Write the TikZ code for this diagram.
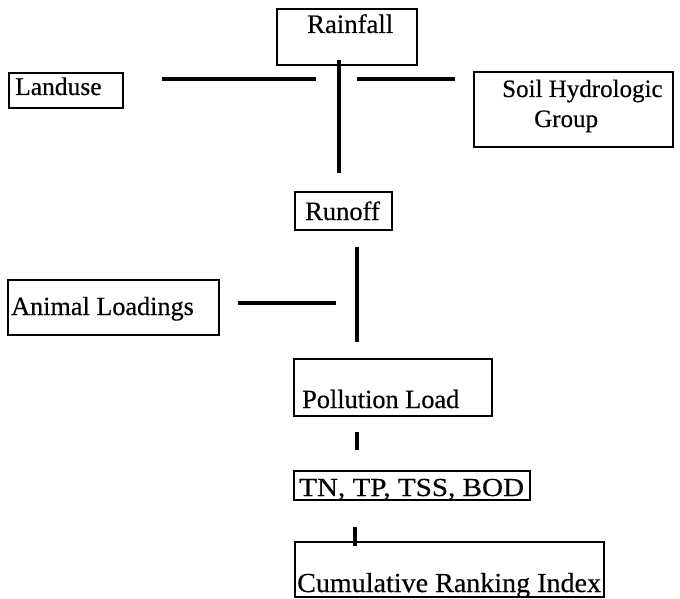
\documentclass[tikz,border=0pt]{standalone}
\usepackage{graphicx}
\usepackage{fontspec}
\setmainfont{Liberation Serif}[FakeBold=0.4]
\newfontfamily\heavyfont{Liberation Serif}[FakeBold=0.4]
\begin{document}
\begin{tikzpicture}[x=1pt,y=-1pt,
  box/.style={draw, line width=2.6pt, inner sep=0pt},
  txt/.style={anchor=base west, inner sep=0pt, font=\heavyfont\fontsize{#1}{30}\selectfont},
  txt/.default=26,
  link/.style={line width=3.3pt}]
\useasboundingbox (0,0) rectangle (680,599);
% boxes
\node[box, minimum width=140pt, minimum height=56pt] (rainB) at (347,37) {};
\node[box, minimum width=114pt, minimum height=35pt] (landB) at (66,90.5) {};
\node[box, minimum width=199pt, minimum height=75pt] (soilB) at (573.5,109.5) {};
\node[box, minimum width=97pt, minimum height=38pt] (runB) at (343.5,211) {};
\node[box, minimum width=211pt, minimum height=55pt] (animB) at (113.5,307.5) {};
\node[box, minimum width=198pt, minimum height=57pt] (pollB) at (393,387.5) {};
\node[box, minimum width=236pt, minimum height=29pt] (tnB) at (412,485.5) {};
\node[box, minimum width=309pt, minimum height=55pt] (cumB) at (449.5,569.5) {};
% texts
\node[txt=26.7] (rainT) at (307,33) {Rainfall};
\node[txt=25.5] (landT) at (15,95) {Landuse};
\node[txt=25] (soilT1) at (502,97) {Soil Hydrologic};
\node[txt=25] (soilT2) at (534,127) {Group};
\node[txt=26.5] (runT) at (305,220) {Runoff};
\node[txt=26.2] (animT) at (11,315) {Animal Loadings};
\node[txt=26.3] (pollT) at (302,408) {Pollution Load};
\node[txt=26] (tnT) at (299,496) {\scalebox{1.12}[1]{TN, TP, TSS, BOD}};
\node[txt=27.5] (cumT) at (297,592) {\scalebox{1.02}[1]{Cumulative Ranking Index}};
% connector ends
\coordinate (v1a) at (339,60);  \coordinate (v1b) at (339,173);
\coordinate (h1a) at (162,79);  \coordinate (h1b) at (316,79);
\coordinate (h2a) at (357,79);  \coordinate (h2b) at (455,79);
\coordinate (v2a) at (357,247); \coordinate (v2b) at (357,342);
\coordinate (h3a) at (238,303); \coordinate (h3b) at (336,303);
\coordinate (v3a) at (357,432); \coordinate (v3b) at (357,450);
\coordinate (v4a) at (355,527); \coordinate (v4b) at (355,546);
\draw[link] (v1a) -- (v1b);
\draw[link] (h1a) -- (h1b);
\draw[link] (h2a) -- (h2b);
\draw[link] (v2a) -- (v2b);
\draw[link] (h3a) -- (h3b);
\draw[link] (v3a) -- (v3b);
\draw[link] (v4a) -- (v4b);
\end{tikzpicture}
\end{document}
